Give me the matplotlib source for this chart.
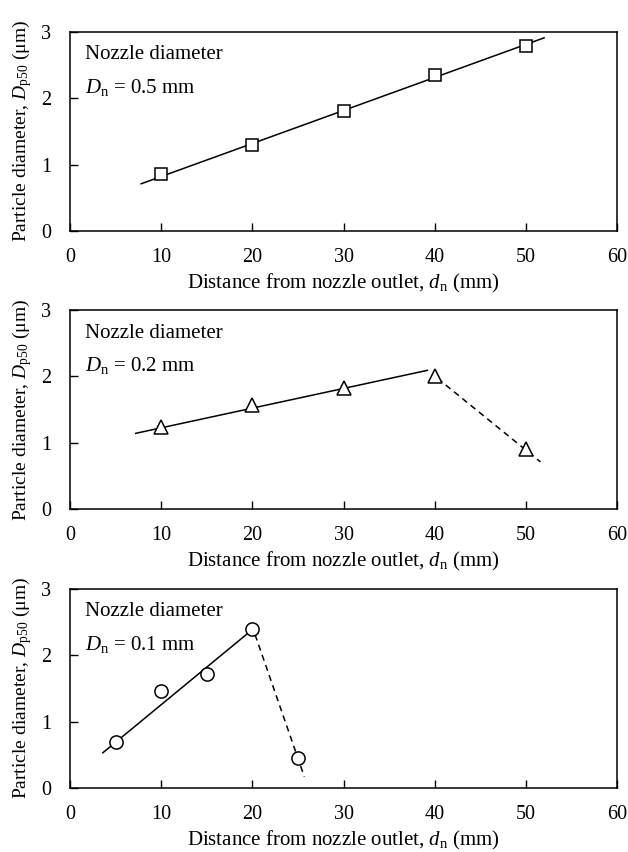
import matplotlib
matplotlib.use("Agg")
import matplotlib.pyplot as plt

plt.rcParams["font.family"] = ["Liberation Serif", "DejaVu Serif"]
plt.rcParams["mathtext.fontset"] = "custom"
plt.rcParams["mathtext.rm"] = "Liberation Serif"
plt.rcParams["mathtext.it"] = "Liberation Serif:italic"

# measured points
x_05 = [10, 20, 30, 40, 50]
y_05 = [0.86, 1.29, 1.81, 2.35, 2.79]
x_02 = [10, 20, 30, 40, 50]
y_02 = [1.23, 1.56, 1.83, 2.01, 0.91]
x_01 = [5, 10, 15, 20, 25]
y_01 = [0.69, 1.46, 1.71, 2.39, 0.45]

# trend lines (end points)
solid_05_x = [7.8, 52.0]
solid_05_y = [0.71, 2.91]
solid_02_x = [7.2, 39.2]
solid_02_y = [1.14, 2.09]
dash_02_x = [40.3, 51.6]
dash_02_y = [1.97, 0.71]
solid_01_x = [3.6, 19.5]
solid_01_y = [0.53, 2.33]
dash_01_x = [20.3, 25.7]
dash_01_y = [2.31, 0.17]

labels = ["0.5", "0.2", "0.1"]
xticks = [0, 10, 20, 30, 40, 50, 60]
yticks = [0, 1, 2, 3]

fig = plt.figure(figsize=(6.28, 8.52), dpi=100)
boxes = [(0.1115, 0.729, 0.871, 0.2336),
         (0.1115, 0.4026, 0.871, 0.2336),
         (0.1115, 0.0752, 0.871, 0.2336)]
axes = [fig.add_axes(b) for b in boxes]

mk = dict(markerfacecolor="white", markeredgecolor="black",
          markeredgewidth=1.1, linestyle="none", zorder=3)
lk = dict(color="black", linewidth=1.1, zorder=2)

axes[0].plot(solid_05_x, solid_05_y, **lk)
axes[0].plot(x_05, y_05, marker="s", markersize=9, **mk)

axes[1].plot(solid_02_x, solid_02_y, **lk)
axes[1].plot(dash_02_x, dash_02_y, linestyle=(0, (4, 3)), **lk)
axes[1].plot(x_02, y_02, marker="^", markersize=10, **mk)

axes[2].plot(solid_01_x, solid_01_y, **lk)
axes[2].plot(dash_01_x, dash_01_y, linestyle=(0, (4, 3)), **lk)
axes[2].plot(x_01, y_01, marker="o", markersize=9.5, **mk)

for ax, lab in zip(axes, labels):
    ax.set_xlim(0, 60)
    ax.set_ylim(0, 3)
    ax.set_xticks(xticks)
    ax.set_yticks(yticks)
    ax.tick_params(direction="in", length=6, width=1, labelsize=14.5,
                   top=False, right=False)
    ax.tick_params(axis="x", pad=12)
    ax.tick_params(axis="y", pad=13.5)
    for s in ax.spines.values():
        s.set_linewidth(1.1)
    ax.set_xlabel(r"Distance from nozzle outlet, $d_{\mathrm{n}}$ (mm)",
                  fontsize=15, labelpad=4)
    ax.set_ylabel(r"Particle diameter, $D_{\mathrm{p50}}$ (μm)",
                  fontsize=14, labelpad=5)
    ax.text(0.027, 0.884, "Nozzle diameter", transform=ax.transAxes,
            fontsize=15, va="center", ha="left")
    ax.text(0.027, 0.72, r"$D_{\mathrm{n}}$ = " + lab + " mm",
            transform=ax.transAxes, fontsize=15, va="center", ha="left")

fig.savefig("out.png", dpi=100)
